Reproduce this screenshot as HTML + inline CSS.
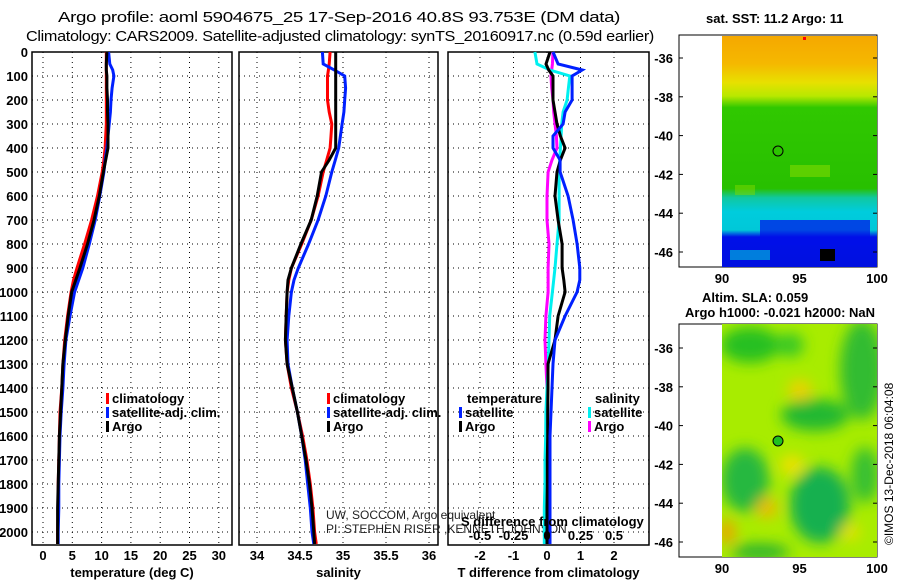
<!DOCTYPE html>
<html><head><meta charset="utf-8">
<style>
html,body{margin:0;padding:0;background:#fff;}
svg{display:block;font-family:"Liberation Sans",sans-serif;}
.b{font-weight:bold;font-size:13px;}
</style></head>
<body>
<svg id="chart" width="900" height="580" viewBox="0 0 900 580">
<defs>
<linearGradient id="sstg" x1="0" y1="0" x2="0" y2="1">
<stop offset="0" stop-color="#f5a800"/><stop offset="0.12" stop-color="#f5b800"/>
<stop offset="0.2" stop-color="#e8e000"/><stop offset="0.26" stop-color="#b8e800"/>
<stop offset="0.31" stop-color="#30c800"/><stop offset="0.66" stop-color="#28c000"/>
<stop offset="0.7" stop-color="#10c8a0"/><stop offset="0.76" stop-color="#00ccdd"/>
<stop offset="0.84" stop-color="#00c8d8"/><stop offset="0.87" stop-color="#0010e8"/>
<stop offset="1" stop-color="#0010e0"/>
</linearGradient>
<filter id="blur"><feGaussianBlur stdDeviation="7"/></filter>
<clipPath id="clipmap2"><rect x="722" y="324" width="155" height="233"/></clipPath>
</defs>
<g id="titles">
<text x="58" y="22" font-size="15" letter-spacing="-0.3" textLength="562" lengthAdjust="spacingAndGlyphs">Argo profile: aoml 5904675_25 17-Sep-2016 40.8S 93.753E (DM data)</text>
<text x="26" y="41" font-size="15" letter-spacing="-0.3" textLength="628" lengthAdjust="spacingAndGlyphs">Climatology: CARS2009. Satellite-adjusted climatology: synTS_20160917.nc (0.59d earlier)</text>
</g>
<g id="plots"></g>
<g id="maps">
<text x="706" y="23" class="b" font-size="13">sat. SST: 11.2 Argo: 11</text>
<rect x="679" y="35" width="198" height="232" fill="#fff" stroke="#000"/>
<rect x="722" y="36" width="155" height="231" fill="url(#sstg)"/>
<rect x="790" y="165" width="40" height="12" fill="#80d800" opacity="0.6"/>
<rect x="735" y="185" width="20" height="10" fill="#80d800" opacity="0.5"/>
<rect x="760" y="220" width="110" height="25" fill="#0010e8" opacity="0.7"/>
<rect x="730" y="250" width="40" height="10" fill="#00c8d8" opacity="0.6"/>
<rect x="820" y="249" width="15" height="12" fill="#000"/>
<rect x="803" y="37" width="3" height="3" fill="#f00"/>
<circle cx="778" cy="151" r="5" fill="none" stroke="#000"/>
<text x="702" y="302" class="b">Altim. SLA: 0.059</text>
<text x="685" y="317" class="b">Argo h1000: -0.021 h2000: NaN</text>
<rect x="679" y="324" width="198" height="233" fill="#fff" stroke="#000"/>
<g clip-path="url(#clipmap2)">
<rect x="722" y="324" width="155" height="233" fill="#a8ec00"/>
<g filter="url(#blur)">
<ellipse cx="750" cy="345" rx="30" ry="18" fill="#28c020"/>
<ellipse cx="862" cy="370" rx="22" ry="50" fill="#30bc30"/>
<ellipse cx="815" cy="415" rx="34" ry="16" fill="#20b830"/>
<ellipse cx="745" cy="480" rx="24" ry="32" fill="#28b840"/>
<ellipse cx="820" cy="505" rx="30" ry="38" fill="#18b050"/>
<ellipse cx="865" cy="475" rx="14" ry="28" fill="#38c030"/>
<ellipse cx="790" cy="345" rx="14" ry="12" fill="#38c828"/>
<ellipse cx="800" cy="390" rx="12" ry="10" fill="#f0d000"/>
<ellipse cx="767" cy="508" rx="10" ry="10" fill="#f0b800"/>
<ellipse cx="727" cy="532" rx="8" ry="12" fill="#f0a000"/>
<ellipse cx="792" cy="465" rx="12" ry="10" fill="#f0e000"/>
<ellipse cx="760" cy="552" rx="30" ry="8" fill="#28b030"/>
<ellipse cx="850" cy="532" rx="10" ry="8" fill="#e8e000"/>
</g>
</g>
<circle cx="778" cy="441" r="5" fill="#20c020" stroke="#000"/>
<text transform="translate(893,545) rotate(-90)" font-size="12">©IMOS 13-Dec-2018 06:04:08</text>
</g>
</svg>
<script>
// ---- data ----
const depths = [0,50,75,100,150,200,250,300,350,400,450,500,600,700,800,900,950,1000,1100,1200,1300,1400,1500,1600,1700,1800,1900,2000,2050];
const tempClim = [10.8,10.8,10.8,10.8,10.8,10.8,10.8,10.8,10.7,10.6,10.4,10.1,9.3,8.3,7.1,5.8,5.2,4.8,4.2,3.7,3.4,3.2,2.9,2.8,2.7,2.6,2.6,2.5,2.5];
const tempSat = [11.2,11.4,11.9,12.1,11.8,11.6,11.5,11.3,11.1,10.9,10.6,10.4,9.7,8.9,7.9,6.8,6.1,5.4,4.6,3.9,3.6,3.4,3.1,2.9,2.8,2.7,2.7,2.6,2.6];
const tempArgo = [10.9,10.8,10.8,10.9,10.9,11.0,11.0,11.1,11.1,11.1,10.7,10.3,9.6,8.7,7.6,6.3,5.6,4.9,4.3,3.8,3.4,3.2,3.0,2.8,2.7,2.6,2.5,2.5,2.5];
const salClim = [34.85,34.84,34.83,34.82,34.82,34.82,34.84,34.87,34.86,34.85,34.81,34.77,34.71,34.63,34.52,34.40,34.37,34.35,34.34,34.33,34.35,34.40,34.47,34.53,34.58,34.62,34.65,34.67,34.69];
const salSat = [34.76,34.77,34.90,35.02,35.03,35.02,35.01,34.99,34.97,34.95,34.91,34.87,34.80,34.71,34.60,34.48,34.43,34.40,34.37,34.35,34.36,34.41,34.47,34.52,34.56,34.59,34.62,34.64,34.66];
const salArgo = [34.915,34.915,34.915,34.915,34.915,34.915,34.915,34.915,34.915,34.915,34.84,34.75,34.70,34.63,34.51,34.40,34.36,34.35,34.34,34.33,34.35,34.41,34.47,34.52,34.57,34.61,34.64,34.66,34.67];
const dTsat = [0.18,0.33,1.05,0.75,0.75,0.75,0.54,0.48,0.18,0.18,0.39,0.39,0.63,0.78,0.9,0.98,0.98,0.9,0.54,0.24,0.18,0.15,0.12,0.09,0.09,0.09,0.09,0.09,0.09];
const dTargo = [0.09,-0.03,0.05,0.18,0.18,0.18,0.24,0.3,0.4,0.54,0.4,0.3,0.24,0.33,0.45,0.45,0.5,0.54,0.33,0.24,0.03,0.03,0.02,0.02,0.01,0.01,0.0,0.0,0.0];
const dSsat = [-0.09,-0.075,0.022,0.17,0.16,0.15,0.12,0.11,0.105,0.1,0.095,0.09,0.09,0.09,0.075,0.06,0.05,0.04,0.02,0.015,0.01,0.0,-0.008,-0.01,-0.015,-0.015,-0.02,-0.02,-0.02];
const dSargo = [0.045,0.04,0.035,0.03,0.035,0.045,0.05,0.06,0.07,0.075,0.037,0.008,0.0,0.0,0.015,0.008,0.008,0.008,-0.008,-0.015,-0.008,0.0,0.0,0.0,0.0,0.0,0.0,0.0,0.0];
const depthTicks = [0,100,200,300,400,500,600,700,800,900,1000,1100,1200,1300,1400,1500,1600,1700,1800,1900,2000];
const tempTicks = [0,5,10,15,20,25,30];
const salTicks = ["34","34.5","35","35.5","36"];
const dTTicks = [-2,-1,0,1,2];
const dSTicks = ["-0.5","-0.25","0","0.25","0.5"];
const latTicks = [-36,-38,-40,-42,-44,-46];
const lonTicks = [90,95,100];

const NS='http://www.w3.org/2000/svg';
const root=document.getElementById('plots');
function mk(tag,attrs,parent,txt){const e=document.createElementNS(NS,tag);for(const k in attrs)e.setAttribute(k,attrs[k]);if(txt!==undefined)e.textContent=txt;(parent||root).appendChild(e);return e;}
const yD=d=>52+d*0.24;
const TOP=52,BOT=545;
const xT=v=>43+v*5.86, xS=v=>257+(v-34)*86, xdT=v=>547+v*33.5, xdS=v=>547+v*134;

function panel(name,x0,x1,ticksPos,labels,labelY,title){
  const g=mk('g',{});
  
  
  ticksPos.forEach((p,i)=>{
    const l=mk('line',{x1:p,x2:p,y1:TOP,y2:BOT,stroke:'#000','stroke-dasharray':'1,4'},g);
    
    
    const t=mk('text',{x:p,y:labelY,'text-anchor':'middle',class:'b'},g,labels[i]);
    
    
  });
  depthTicks.forEach(d=>{
    const l=mk('line',{x1:x0,x2:x1,y1:yD(d),y2:yD(d),stroke:'#000','stroke-dasharray':'1,4'},g);
    
    
  });
  const r=mk('rect',{x:x0,y:TOP,width:x1-x0,height:BOT-TOP,fill:'none',stroke:'#000','stroke-width':1.5},g);
  
  
  const t=mk('text',{x:(x0+x1)/2,y:577,'text-anchor':'middle',class:'b'},g,title);
  
  
  return g;
}
function line(g,vals,xf,color,name){
  const pts=vals.map((v,i)=>xf(v).toFixed(1)+','+yD(depths[i]).toFixed(1)).join(' ');
  const p=mk('polyline',{points:pts,fill:'none',stroke:color,'stroke-width':3},g);
  
  
}
function legend(g,x,y,items){
  items.forEach((it,i)=>{
    const r=mk('rect',{x:x,y:y+i*14-10,width:3,height:11,fill:it[1]},g);
    
    
    const t=mk('text',{x:x+6,y:y+i*14,class:'b'},g,it[0]);
    
    
  });
}
depthTicks.forEach(d=>{
  const t=mk('text',{x:28,y:yD(d)+5,'text-anchor':'end',class:'b'},root,String(d));
  
  
});
const p1=panel('temperature-panel',32,232,tempTicks.map(xT),tempTicks.map(String),560,'temperature (deg C)');
line(p1,tempClim,xT,'#f00','temp-climatology-line');
line(p1,tempSat,xT,'#0020ff','temp-satellite-line');
line(p1,tempArgo,xT,'#000','temp-argo-line');
legend(p1,106,403,[['climatology','#f00'],['satellite-adj. clim.','#0020ff'],['Argo','#000']]);
const p2=panel('salinity-panel',239,438,salTicks.map(v=>xS(+v)),salTicks,560,'salinity');
line(p2,salClim,xS,'#f00','sal-climatology-line');
line(p2,salSat,xS,'#0020ff','sal-satellite-line');
line(p2,salArgo,xS,'#000','sal-argo-line');
legend(p2,327,403,[['climatology','#f00'],['satellite-adj. clim.','#0020ff'],['Argo','#000']]);
const c1=mk('text',{x:326,y:519,'font-size':12,fill:'#222'},p2,'UW, SOCCOM, Argo equivalent');


const c2=mk('text',{x:326,y:533,'font-size':12,fill:'#222'},p2,'PI: STEPHEN RISER ,KENNETH JOHNSON');


const p3=panel('difference-panel',448,649,dTTicks.map(xdT),dTTicks.map(String),560,'T difference from climatology');
line(p3,dSargo,xdS,'#ff00ff','sal-diff-argo-line');
line(p3,dSsat,xdS,'#00f0f0','sal-diff-satellite-line');
line(p3,dTargo,xdT,'#000','temp-diff-argo-line');
line(p3,dTsat,xdT,'#0020ff','temp-diff-satellite-line');
const lt=mk('text',{x:467,y:403,class:'b'},p3,'temperature');


legend(p3,459,417,[['satellite','#0020ff'],['Argo','#000']]);
const ls=mk('text',{x:595,y:403,class:'b'},p3,'salinity');


legend(p3,588,417,[['satellite','#00f0f0'],['Argo','#ff00ff']]);
const st=mk('text',{x:461,y:526,class:'b'},p3,'S difference from climatology');


dSTicks.forEach(v=>{
  const t=mk('text',{x:xdS(+v),y:540,'text-anchor':'middle',class:'b'},p3,v);
  
  
});
const maps=document.getElementById('maps');
function mapAxes(top,latY0){
  latTicks.forEach(v=>{
    const y=latY0+(-36-v)*19.4;
    const t=mk('text',{x:673,y:y+5,'text-anchor':'end',class:'b'},maps,String(v));
    
    
    mk('line',{x1:679,x2:683,y1:y,y2:y,stroke:'#000'},maps);
    mk('line',{x1:873,x2:877,y1:y,y2:y,stroke:'#000'},maps);
  });
  lonTicks.forEach(v=>{
    const x=722+(v-90)*15.5;
    const t=mk('text',{x:x,y:top+16,'text-anchor':'middle',class:'b'},maps,String(v));
    
    
  });
}
mapAxes(267,58);
mapAxes(557,348);
</script>
</body></html>
